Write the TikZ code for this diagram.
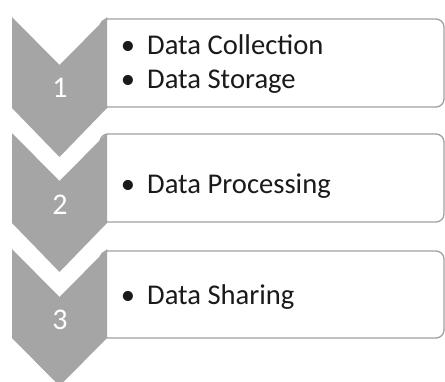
\documentclass[tikz,border=0pt]{standalone}
\usepackage{fontspec}
\setmainfont{Carlito}
\definecolor{chevgray}{HTML}{A5A5A5}
\definecolor{boxgray}{HTML}{A0A0A0}
\definecolor{textblack}{HTML}{1A1A1A}
\begin{document}
\begin{tikzpicture}[x=1pt,y=-1pt,
  chev/.style={fill=chevgray,draw=none},
  listbox/.style={draw=boxgray,line width=1.3pt,fill=white,rounded corners=8pt},
  itemtext/.style={anchor=base west,inner sep=0pt,text=textblack,font=\fontsize{28.6}{34}\selectfont},
  bullettext/.style={anchor=base,inner sep=0pt,text=textblack,font=\fontsize{28.6}{34}\selectfont},
  numtext/.style={anchor=base,inner sep=0pt,text=white,font=\fontsize{30}{36}\selectfont}]
\useasboundingbox (0,0) rectangle (445,381);
\clip (0,0) rectangle (445,381);
% boxes
\draw[listbox] (100,19) rectangle (444,107);
\draw[listbox] (100,134) rectangle (444,222);
\draw[listbox] (100,251) rectangle (444,338);
% chevrons
\fill[chev] (12,17) -- (59.5,65) -- (107,17) -- (107,108) -- (59.5,157) -- (12,108) -- cycle;
\fill[chev] (12,133) -- (59.5,181) -- (107,133) -- (107,223) -- (59.5,272) -- (12,223) -- cycle;
\fill[chev] (12,249) -- (59.5,297) -- (107,249) -- (107,338) -- (59.5,386) -- (12,338) -- cycle;
% numbers
\node[numtext] (n1) at (60,97) {1};
\node[numtext] (n2) at (60,214) {2};
\node[numtext] (n3) at (60,329) {3};
% items
\node[bullettext] (b1) at (128,54) {•};
\node[itemtext] (t1) at (147,54) {Data Collection};
\node[bullettext] (b2) at (128,88) {•};
\node[itemtext] (t2) at (147,88) {Data Storage};
\node[bullettext] (b3) at (128,193) {•};
\node[itemtext] (t3) at (147,193) {Data Processing};
\node[bullettext] (b4) at (128,304) {•};
\node[itemtext] (t4) at (147,304) {Data Sharing};
\end{tikzpicture}
\end{document}
